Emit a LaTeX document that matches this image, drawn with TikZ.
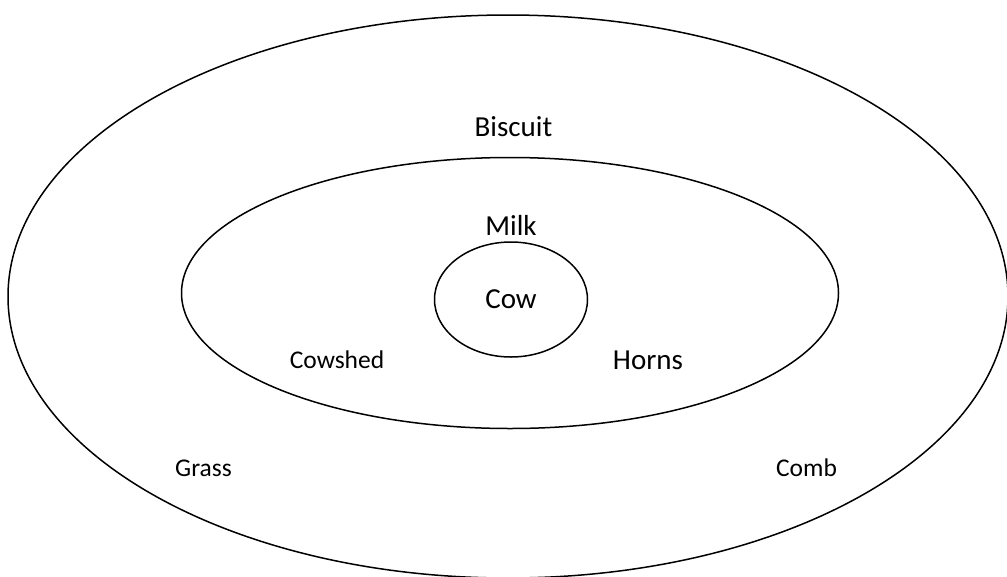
\documentclass[tikz,border=0pt]{standalone}
\usepackage{fontspec}
\setmainfont{Carlito}
\usetikzlibrary{shapes.geometric}
\tikzset{
  ring/.style={draw, ellipse, inner sep=0pt, line width=1.5pt},
  biglabel/.style={font=\fontsize{29}{34}\selectfont},
  smalllabel/.style={font=\fontsize{25.5}{30}\selectfont}
}
\begin{document}
\begin{tikzpicture}[x=1pt, y=-1pt]
\useasboundingbox (0,0) rectangle (1007,576);
\node[ring, minimum width=1000pt, minimum height=563pt] (outer) at (508,296.5) {};
\node[ring, minimum width=657pt, minimum height=271pt] (inner) at (510,293) {};
\node[ring, minimum width=153pt, minimum height=115pt, biglabel] (cow) at (511,299.5) {Cow};
\node[biglabel] (biscuit) at (513.5,127) {Biscuit};
\node[biglabel] (milk) at (511,225) {Milk};
\node[biglabel] (horns) at (648,360) {Horns};
\node[smalllabel] (cowshed) at (337,360) {Cowshed};
\node[smalllabel] (grass) at (203.5,468) {Grass};
\node[smalllabel] (comb) at (806.5,468) {Comb};
\end{tikzpicture}
\end{document}
